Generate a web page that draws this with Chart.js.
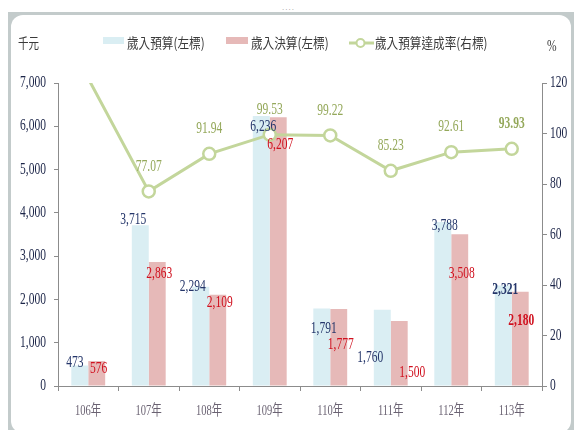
<!DOCTYPE html>
<html>
<head>
<meta charset="utf-8">
<script src="https://cdn.jsdelivr.net/npm/chart.js@4.4.1/dist/chart.umd.min.js"></script>
<style>
    html, body { margin: 0; padding: 0; background: #fff; }
    #wrap { position: relative; width: 574px; height: 430px; overflow: hidden; }
    #frame { position: absolute; left: 8px; top: 12px; width: 566px; height: 424px; background: #c3cbcb; }
    #frame .inner { position: absolute; left: 3px; top: 3px; right: 3px; bottom: 3px; background: #fff; border-radius: 12px; }
    #dots { position: absolute; left: 282px; top: 3px; font: 8px "Liberation Sans"; color: #999; letter-spacing: 1px; }
    canvas { position: absolute; left: 0; top: 0; }
    .lg { position: absolute; font: 14px "Noto Sans CJK TC"; color: #3a3a3a; white-space: nowrap;
          transform: scaleX(0.83); transform-origin: left center; line-height: 16px; }
    .sw { position: absolute; height: 7px; }
</style>
</head>
<body>
<div id="wrap">
    <div id="frame"><div class="inner"></div></div>
    <div id="dots">....</div>
    <canvas id="chart" width="574" height="430"></canvas>
    <div class="lg" style="left:18px; top:34px; transform: scaleX(0.75);">千元</div>
    <div class="sw" style="left:103px; top:37px; width:21px; background:#daeef3;"></div>
    <div class="lg" style="left:127px; top:34px;">歲入預算(左標)</div>
    <div class="sw" style="left:226px; top:37px; width:22px; background:#e6b9b8;"></div>
    <div class="lg" style="left:251px; top:34px;">歲入決算(左標)</div>
    <svg style="position:absolute; left:348px; top:36px;" width="27" height="14">
        <line x1="1" y1="7" x2="26" y2="7" stroke="#c3d69b" stroke-width="3"/>
        <circle cx="12.5" cy="7" r="4" fill="#fff" stroke="#c3d69b" stroke-width="2"/>
    </svg>
    <div class="lg" style="left:375px; top:34px;">歲入預算達成率(右標)</div>
    <div class="lg" style="left:547px; top:37px; font: 16px 'Liberation Serif'; transform: scaleX(0.72);">%</div>
</div>
<script>
// 資料
const years = ['106年', '107年', '108年', '109年', '110年', '111年', '112年', '113年'];
const budget = [473, 3715, 2294, 6236, 1791, 1760, 3788, 2321];
const actual = [576, 2863, 2109, 6207, 1777, 1500, 3508, 2180];
const rate = [121.78, 77.07, 91.94, 99.53, 99.22, 85.23, 92.61, 93.93];

// 標籤位置微調 (相對於柱頂中心)
const budgetLabelShift = [[-5, -3], [-7, -5], [-8, 0], [2, 11], [2, 20], [-12, 48], [2, 4], [2, 4]];
const actualLabelShift = [[2, 8], [2, 12], [2, 8], [2, 27], [2, 36], [13, 52], [2, 40], [1, 29]];
const boldIndex = 7;

const BLUE = '#daeef3';
const PINK = '#e6b9b8';
const GREEN = '#c3d69b';
const AXIS = '#8c8c8c';

function drawText(ctx, text, x, y, font, color, align, sx) {
    ctx.save();
    ctx.font = font;
    ctx.fillStyle = color;
    ctx.textAlign = align || 'center';
    ctx.textBaseline = 'middle';
    ctx.translate(x, y);
    ctx.scale(sx || 0.72, 1);
    ctx.fillText(text, 0, 0);
    ctx.restore();
}

function fmt(v) {
    return v.toLocaleString('en-US');
}

const textPlugin = {
    id: 'textPlugin',
    afterDraw(chart) {
        const ctx = chart.ctx;
        const sx = chart.scales.x;
        const sy = chart.scales.y;
        const sy1 = chart.scales.y1;
        const serif = '"Liberation Serif"';

        // 左軸刻度
        sy.ticks.forEach(t => {
            drawText(ctx, fmt(t.value), 46, sy.getPixelForValue(t.value), '16px ' + serif, '#1c2548', 'right');
        });
        // 右軸刻度
        sy1.ticks.forEach(t => {
            drawText(ctx, String(t.value), 550, sy1.getPixelForValue(t.value), '16px ' + serif, '#1c2548', 'left');
        });
        // X 軸
        years.forEach((y, i) => {
            drawText(ctx, y, sx.getPixelForValue(i), 411, '15px ' + serif + ', "Noto Sans CJK TC"', '#6a6272', 'center', 0.7);
        });

        // 柱狀標籤
        const mBudget = chart.getDatasetMeta(0);
        const mActual = chart.getDatasetMeta(1);
        const mRate = chart.getDatasetMeta(2);
        budget.forEach((v, i) => {
            const bar = mBudget.data[i];
            const s = budgetLabelShift[i];
            const w = i === boldIndex ? 'bold ' : '';
            drawText(ctx, fmt(v), bar.x + s[0], bar.y + s[1], w + '16px ' + serif, '#25366a');
        });
        actual.forEach((v, i) => {
            const bar = mActual.data[i];
            const s = actualLabelShift[i];
            const w = i === boldIndex ? 'bold ' : '';
            drawText(ctx, fmt(v), bar.x + s[0], bar.y + s[1], w + '16px ' + serif, '#d0101e');
        });
        // 達成率標籤
        rate.forEach((v, i) => {
            if (v > sy1.max) return;
            const pt = mRate.data[i];
            const w = i === boldIndex ? 'bold ' : '';
            drawText(ctx, v.toFixed(2), pt.x, pt.y - 25, w + '16px ' + serif, '#94a85a');
        });
    }
};

new Chart(document.getElementById('chart'), {
    data: {
        labels: years,
        datasets: [
            {
                type: 'bar',
                label: '歲入預算(左標)',
                data: budget,
                yAxisID: 'y',
                backgroundColor: BLUE,
                categoryPercentage: 0.56,
                barPercentage: 1,
                order: 1
            },
            {
                type: 'bar',
                label: '歲入決算(左標)',
                data: actual,
                yAxisID: 'y',
                backgroundColor: PINK,
                categoryPercentage: 0.56,
                barPercentage: 1,
                order: 1
            },
            {
                type: 'line',
                label: '歲入預算達成率(右標)',
                data: rate,
                yAxisID: 'y1',
                borderColor: GREEN,
                borderWidth: 3,
                pointRadius: rate.map(v => v > 120 ? 0 : 6),
                pointBackgroundColor: '#fff',
                pointBorderColor: GREEN,
                pointBorderWidth: 2.5,
                tension: 0,
                order: 0
            }
        ]
    },
    options: {
        responsive: false,
        animation: false,
        layout: { padding: { top: 83, left: 0, right: 0, bottom: 0 } },
        plugins: {
            legend: { display: false },
            tooltip: { enabled: false }
        },
        scales: {
            x: {
                grid: { drawOnChartArea: false, tickLength: 5, color: AXIS, offset: true },
                border: { color: AXIS },
                ticks: { display: false },
                afterFit(s) { s.height = 44; }
            },
            y: {
                position: 'left',
                min: 0,
                max: 7000,
                ticks: { stepSize: 1000, display: false },
                grid: { drawOnChartArea: false, tickLength: 4, color: AXIS },
                border: { color: AXIS },
                afterFit(s) { s.width = 58; }
            },
            y1: {
                position: 'right',
                min: 0,
                max: 120,
                ticks: { stepSize: 20, display: false },
                grid: { drawOnChartArea: false, tickLength: 5, color: AXIS },
                border: { color: AXIS },
                afterFit(s) { s.width = 32; }
            }
        }
    },
    plugins: [textPlugin]
});
</script>
</body>
</html>
